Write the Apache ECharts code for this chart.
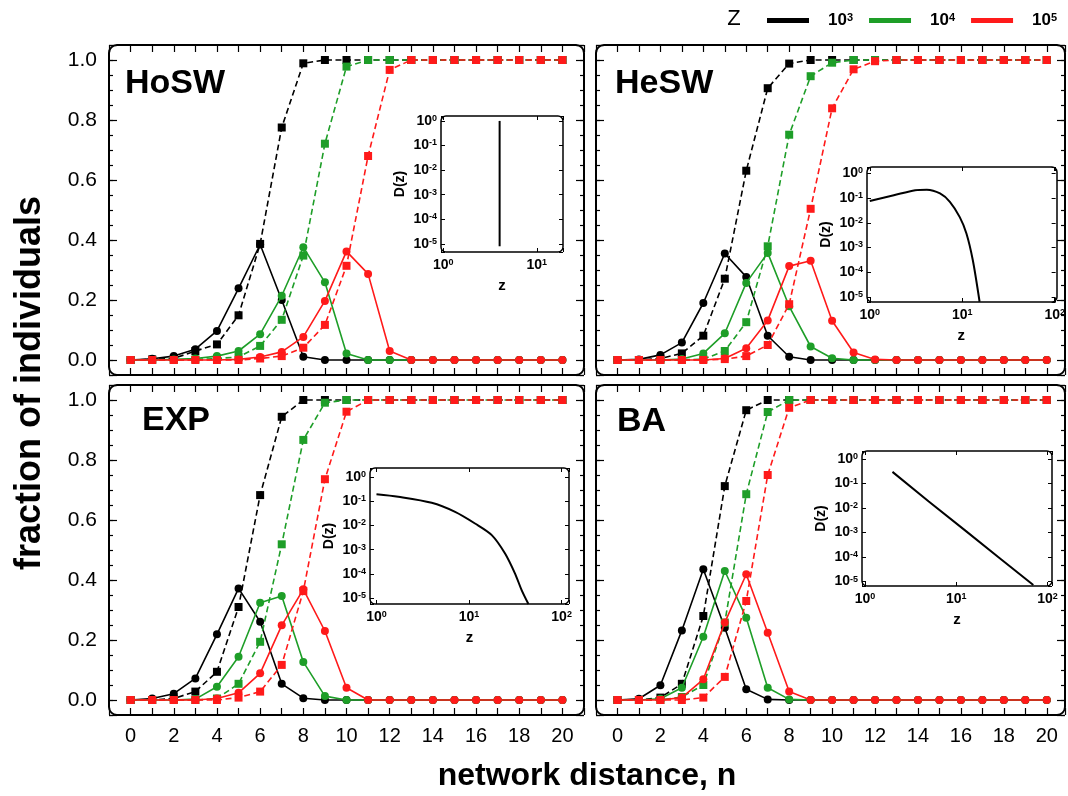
<!DOCTYPE html>
<html><head><meta charset="utf-8">
<script src="https://cdn.jsdelivr.net/npm/echarts@6/dist/echarts.min.js"></script>
<style>html,body{margin:0;padding:0;background:#fff}#c{width:1068px;height:796px}</style>
</head><body><div id="c"></div>
<script>
// ---------------- data ----------------
const nValues = [0,1,2,3,4,5,6,7,8,9,10,11,12,13,14,15,16,17,18,19,20];
const xTickLabels = ['0','2','4','6','8','10','12','14','16','18','20'];
const yTickLabels = ['0.0','0.2','0.4','0.6','0.8','1.0'];
const zNames = ['10³','10⁴','10⁵'];
const zExponents = ['3','4','5'];
const panelTitles = ['HoSW','HeSW','EXP','BA'];

// HoSW
const hoswCirc3 = [0,0.004,0.013,0.036,0.097,0.239,0.385,0.200,0.011,0,0,0,0,0,0,0,0,0,0,0,0];
const hoswSq3   = [0,0.002,0.005,0.030,0.052,0.149,0.387,0.775,0.989,1,1,1,1,1,1,1,1,1,1,1,1];
const hoswCirc4 = [0,0,0.002,0.005,0.013,0.030,0.086,0.214,0.376,0.259,0.022,0,0,0,0,0,0,0,0,0,0];
const hoswSq4   = [0,0,0,0.002,0.005,0.010,0.047,0.134,0.348,0.721,0.978,1,1,1,1,1,1,1,1,1,1];
const hoswCirc5 = [0,0,0,0,0,0.002,0.010,0.027,0.077,0.197,0.362,0.287,0.030,0,0,0,0,0,0,0,0];
const hoswSq5   = [0,0,0,0,0,0,0.005,0.013,0.041,0.117,0.314,0.680,0.967,1,1,1,1,1,1,1,1];
// HeSW
const heswCirc3 = [0,0.002,0.017,0.058,0.190,0.355,0.277,0.081,0.011,0,0,0,0,0,0,0,0,0,0,0,0];
const heswSq3   = [0,0,0.005,0.022,0.081,0.271,0.631,0.906,0.988,1,1,1,1,1,1,1,1,1,1,1,1];
const heswCirc4 = [0,0,0,0.003,0.022,0.089,0.257,0.357,0.179,0.045,0.006,0,0,0,0,0,0,0,0,0,0];
const heswSq4   = [0,0,0,0,0.003,0.030,0.126,0.379,0.751,0.946,0.991,1,1,1,1,1,1,1,1,1,1];
const heswCirc5 = [0,0,0,0,0,0.005,0.039,0.132,0.313,0.331,0.131,0.025,0.002,0,0,0,0,0,0,0,0];
const heswSq5   = [0,0,0,0,0,0.003,0.013,0.050,0.186,0.504,0.839,0.969,0.996,1,1,1,1,1,1,1,1];
// EXP
const expCirc3 = [0,0.005,0.021,0.072,0.219,0.372,0.261,0.054,0.006,0,0,0,0,0,0,0,0,0,0,0,0];
const expSq3   = [0,0,0.005,0.028,0.094,0.310,0.683,0.944,1,1,1,1,1,1,1,1,1,1,1,1,1];
const expCirc4 = [0,0,0,0.003,0.044,0.144,0.324,0.347,0.127,0.013,0,0,0,0,0,0,0,0,0,0,0];
const expSq4   = [0,0,0,0,0.005,0.054,0.194,0.519,0.867,0.991,1,1,1,1,1,1,1,1,1,1,1];
const expCirc5 = [0,0,0,0,0.005,0.024,0.089,0.249,0.369,0.230,0.041,0,0,0,0,0,0,0,0,0,0];
const expSq5   = [0,0,0,0,0,0.008,0.028,0.117,0.363,0.736,0.961,1,1,1,1,1,1,1,1,1,1];
// BA
const baCirc3 = [0,0.004,0.049,0.232,0.436,0.241,0.036,0.002,0,0,0,0,0,0,0,0,0,0,0,0,0];
const baSq3   = [0,0,0.008,0.054,0.280,0.713,0.966,1,1,1,1,1,1,1,1,1,1,1,1,1,1];
const baCirc4 = [0,0,0.004,0.041,0.211,0.430,0.274,0.041,0.002,0,0,0,0,0,0,0,0,0,0,0,0];
const baSq4   = [0,0,0,0.010,0.050,0.258,0.686,0.960,1,1,1,1,1,1,1,1,1,1,1,1,1];
const baCirc5 = [0,0,0,0.008,0.069,0.258,0.419,0.224,0.028,0,0,0,0,0,0,0,0,0,0,0,0];
const baSq5   = [0,0,0,0,0.008,0.077,0.330,0.750,0.974,1,1,1,1,1,1,1,1,1,1,1,1];

// insets: degree distributions D(z)
const hoswInsetZ = [4, 4];
const hoswInsetD = [1, 0.000008];
const heswInsetZ = [1.0,1.82,3.1,4.14,5.75,7.35,9.4,11.1,13.0,15.4];
const heswInsetD = [0.076,0.13,0.21,0.22,0.155,0.071,0.017,0.0037,0.00031,0.0000063];
const expInsetZ = [1.0,1.72,3.95,7.07,11.6,17.6,24.5,31.4,37.0,43.8];
const expInsetD = [0.19,0.15,0.085,0.036,0.012,0.004,0.0007,0.000105,0.000022,0.0000059];
const baInsetZ = [2,5,12.4,30,70];
const baInsetD = [0.30,0.0186,0.00126,0.00009,0.0000072];

// ---------------- layout / style ----------------
const COLORS = ['#000000','#1e9e28','#ff1a1a'];
const FONT = "'Liberation Sans', Arial, Helvetica, sans-serif";
const NARROW = "'Liberation Sans Narrow', 'Liberation Sans', Arial, sans-serif";

const panels = [
  {circ:[hoswCirc3,hoswCirc4,hoswCirc5], sq:[hoswSq3,hoswSq4,hoswSq5], inZ:hoswInsetZ, inD:hoswInsetD},
  {circ:[heswCirc3,heswCirc4,heswCirc5], sq:[heswSq3,heswSq4,heswSq5], inZ:heswInsetZ, inD:heswInsetD},
  {circ:[expCirc3,expCirc4,expCirc5],    sq:[expSq3,expSq4,expSq5],    inZ:expInsetZ,  inD:expInsetD},
  {circ:[baCirc3,baCirc4,baCirc5],       sq:[baSq3,baSq4,baSq5],       inZ:baInsetZ,   inD:baInsetD}
];
const layout = [
  {grid:{left:109,top:45,width:475,height:330}, xMax:21, leftLabels:true, bottomLabels:false, title:[125,84],
   inset:{left:441,top:116,width:122,height:136}, inX:[-0.025,1.28], inY:[-5.33,0.2], smooth:false},
  {grid:{left:596,top:45,width:469,height:330}, xMax:20.85, leftLabels:false, bottomLabels:false, title:[615,84],
   inset:{left:867,top:167,width:190,height:135}, inX:[-0.03,2.01], inY:[-5.21,0.26], smooth:0.3},
  {grid:{left:109,top:385,width:475,height:330}, xMax:21, leftLabels:true, bottomLabels:true, title:[142,421],
   inset:{left:370,top:468,width:199,height:136}, inX:[-0.07,2.08], inY:[-5.23,0.36], smooth:0.3},
  {grid:{left:596,top:385,width:469,height:330}, xMax:20.85, leftLabels:false, bottomLabels:true, title:[617,422],
   inset:{left:862,top:451,width:190,height:135}, inX:[-0.033,2.05], inY:[-5.18,0.33], smooth:false}
];

function logLabel(v){
  const l = Math.log10(v); const k = Math.round(l);
  if (Math.abs(l-k) > 1e-6) return '';
  return '10{s|' + k + '}';
}
function yLabel(v){
  const k = Math.round(v/0.2);
  return (Math.abs(v-k*0.2) < 1e-6 && k>=0 && k<=5) ? yTickLabels[k] : '';
}
function xLabel(v){
  return (v>=0 && v<=20 && Math.abs(v%2) < 1e-9) ? xTickLabels[Math.round(v/2)] : '';
}
const insetRich = {s:{fontSize:9, fontWeight:'bold', color:'#000', fontFamily:FONT, verticalAlign:'top', lineHeight:10}};

const grid=[], xAxis=[], yAxis=[], series=[], graphic=[];
const noLine = {show:false, onZero:false};

layout.forEach((L,p)=>{
  const P = panels[p];
  // main panel
  const g = grid.length; grid.push(Object.assign({containLabel:false}, L.grid));
  const xb = xAxis.length;
  ['bottom','top'].forEach(pos=>{
    xAxis.push({gridIndex:g, type:'value', position:pos, min:-1, max:L.xMax, interval:1,
      axisLine:noLine, splitLine:{show:false},
      axisTick:{show:true, inside:true, length:7, lineStyle:{color:'#000', width:1.2}},
      axisLabel:{show: pos==='bottom' && L.bottomLabels, margin:11, fontSize:20, color:'#000',
        fontFamily:NARROW, formatter:xLabel, showMinLabel:true, showMaxLabel:true}});
  });
  const yb = yAxis.length;
  ['left','right'].forEach(pos=>{
    yAxis.push({gridIndex:g, type:'value', position:pos, min:-0.05, max:1.05, splitNumber:5,
      axisLine:noLine, splitLine:{show:false},
      axisTick:{show:true, inside:true, length:8, lineStyle:{color:'#000', width:1.2}},
      axisLabel:{show: pos==='left' && L.leftLabels, margin:12, fontSize:21, color:'#000',
        fontFamily:FONT, formatter:yLabel}});
    yAxis.push({gridIndex:g, type:'value', position:pos, min:-0.05, max:1.05, interval:0.05,
      axisLine:noLine, splitLine:{show:false},
      axisTick:{show:true, inside:true, length:4, lineStyle:{color:'#000', width:1.2}},
      axisLabel:{show:false}});
  });
  for (let k=0;k<3;k++){
    series.push({type:'line', name:zNames[k], xAxisIndex:xb, yAxisIndex:yb,
      data: nValues.map((x,i)=>[x, P.circ[k][i]]),
      symbol:'circle', symbolSize:8, itemStyle:{color:COLORS[k]},
      lineStyle:{color:COLORS[k], width:1.6}, z:2+k*2});
    series.push({type:'line', name:zNames[k], xAxisIndex:xb, yAxisIndex:yb,
      data: nValues.map((x,i)=>[x, P.sq[k][i]]),
      symbol:'rect', symbolSize:8, itemStyle:{color:COLORS[k]},
      lineStyle:{color:COLORS[k], width:1.6, type:[6,3.5]}, z:3+k*2});
  }
  graphic.push({type:'rect', silent:true, z:100,
    shape:{x:L.grid.left, y:L.grid.top, width:L.grid.width, height:L.grid.height, r:8},
    style:{fill:'none', stroke:'#000', lineWidth:2}});
  graphic.push({type:'text', silent:true, z:100, x:L.title[0], y:L.title[1],
    style:{text:panelTitles[p], font:"bold 34px "+FONT, fill:'#000',
      textAlign:'left', align:'left', textVerticalAlign:'middle', verticalAlign:'middle'}});

  // inset
  const gi = grid.length; grid.push(Object.assign({containLabel:false}, L.inset));
  const xi = xAxis.length;
  ['bottom','top'].forEach(pos=>{
    xAxis.push({gridIndex:gi, type:'log', logBase:10, position:pos,
      min:Math.pow(10,L.inX[0]), max:Math.pow(10,L.inX[1]),
      axisLine:noLine, splitLine:{show:false},
      axisTick:{show:true, inside:true, length:4, lineStyle:{color:'#000'}},
      axisLabel:{show:pos==='bottom', formatter:logLabel, fontSize:14, fontWeight:'bold', color:'#000',
        fontFamily:FONT, margin:6, rich:insetRich},
      name: pos==='bottom' ? 'z' : '', nameLocation:'middle', nameGap:26,
      nameTextStyle:{fontSize:15, fontWeight:'bold', color:'#000', fontFamily:FONT}});
  });
  const yi = yAxis.length;
  ['left','right'].forEach(pos=>{
    yAxis.push({gridIndex:gi, type:'log', logBase:10, position:pos,
      min:Math.pow(10,L.inY[0]), max:Math.pow(10,L.inY[1]),
      axisLine:noLine, splitLine:{show:false},
      axisTick:{show:true, inside:true, length:4, lineStyle:{color:'#000'}},
      axisLabel:{show:pos==='left', formatter:logLabel, fontSize:14, fontWeight:'bold', color:'#000',
        fontFamily:FONT, margin:4, rich:insetRich},
      name: pos==='left' ? 'D(z)' : '', nameLocation:'middle', nameGap:34, nameRotate:90,
      nameTextStyle:{fontSize:14, fontWeight:'bold', color:'#000', fontFamily:FONT}});
  });
  series.push({type:'line', xAxisIndex:xi, yAxisIndex:yi,
    data: P.inZ.map((z,i)=>[z, P.inD[i]]), symbol:'none', showSymbol:false,
    smooth:L.smooth, lineStyle:{color:'#000', width:2}, z:10});
  graphic.push({type:'rect', silent:true, z:100,
    shape:{x:L.inset.left, y:L.inset.top, width:L.inset.width, height:L.inset.height, r:5},
    style:{fill:'none', stroke:'#000', lineWidth:1.5}});
});

// titles and legend label
graphic.push({type:'text', silent:true, x:30, y:383, rotation:Math.PI/2,
  style:{text:'fraction of individuals', font:"bold 36px "+FONT, fill:'#000',
    textAlign:'center', align:'center', textVerticalAlign:'middle', verticalAlign:'middle'}});
graphic.push({type:'text', silent:true, x:587, y:776,
  style:{text:'network distance, n', font:"bold 32px "+FONT, fill:'#000',
    textAlign:'center', align:'center', textVerticalAlign:'middle', verticalAlign:'middle'}});
graphic.push({type:'text', silent:true, x:734, y:19,
  style:{text:'Z', font:"22px "+FONT, fill:'#000',
    textAlign:'center', align:'center', textVerticalAlign:'middle', verticalAlign:'middle'}});

const option = {
  animation:false,
  backgroundColor:'#fff',
  textStyle:{fontFamily:FONT},
  legend:{data:zNames, left:767, top:12, width:300, padding:0, icon:'rect', itemWidth:42, itemHeight:5, itemGap:16,
    selectedMode:false,
    formatter: name => '10{s|' + zExponents[zNames.indexOf(name)] + '}',
    textStyle:{fontSize:17, fontWeight:'bold', color:'#000', fontFamily:FONT, padding:[0,0,0,14],
      rich:{s:{fontSize:11, fontWeight:'bold', color:'#000', fontFamily:FONT, verticalAlign:'top', lineHeight:11}}}},
  grid, xAxis, yAxis, series, graphic
};
const chart = echarts.init(document.getElementById('c'), null, {renderer:'canvas'});
chart.setOption(option);
</script>
</body></html>
